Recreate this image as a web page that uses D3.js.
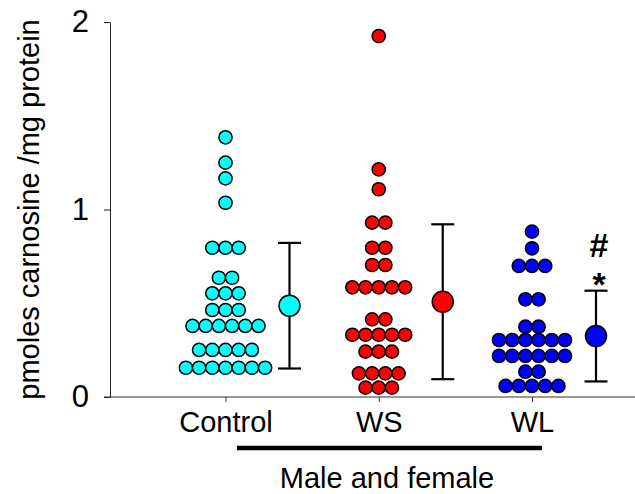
<!DOCTYPE html>
<html>
<head>
<meta charset="utf-8">
<script src="https://cdnjs.cloudflare.com/ajax/libs/d3/7.8.5/d3.min.js"></script>
<style>
  body { margin: 0; background: #fff; }
  text { font-family: "Liberation Sans", Arial, sans-serif; fill: #000; }
</style>
</head>
<body>
<div id="chart"></div>
<script>
// groups shown on the x axis
var categories = ["Control", "WS", "WL"];
var colors = ["#00ffff", "#ff0000", "#0000ff"];

// individual values (pmoles carnosine / mg protein)
var controlValues = [1.385, 1.25, 1.166, 1.036,
    0.796, 0.796, 0.796,
    0.636, 0.636,
    0.553, 0.553, 0.553,
    0.464, 0.464, 0.464,
    0.379, 0.379, 0.379, 0.379, 0.379, 0.379,
    0.251, 0.251, 0.251, 0.251, 0.251,
    0.156, 0.156, 0.156, 0.156, 0.156, 0.156, 0.156];
var wsValues = [1.925, 1.214, 1.108,
    0.93, 0.93,
    0.796, 0.796,
    0.704, 0.704,
    0.585, 0.585, 0.585, 0.585, 0.585,
    0.414, 0.414,
    0.332, 0.332, 0.332, 0.332, 0.332,
    0.242, 0.242, 0.242,
    0.126, 0.126, 0.126, 0.126,
    0.05, 0.05, 0.05];
var wlValues = [0.882, 0.793,
    0.699, 0.699, 0.699,
    0.521, 0.521,
    0.375, 0.375,
    0.304, 0.304, 0.304, 0.304, 0.304, 0.304,
    0.219, 0.219, 0.219, 0.219, 0.219, 0.219,
    0.135, 0.135,
    0.059, 0.059, 0.059, 0.059, 0.059];

// group mean and SD
var means = [0.487, 0.508, 0.325];
var sds = [0.335, 0.413, 0.242];

var yTicks = [0, 1, 2];
var annotations = ["#", "*"];   // shown above WL

var width = 635, height = 494;
var svg = d3.select("#chart").append("svg")
    .attr("width", width)
    .attr("height", height);

var y = d3.scaleLinear().domain([0, 2]).range([397, 22]);
var x = d3.scalePoint().domain(categories).range([225.5, 532]);
var meanOffset = 64;
var r = 6.6;

// y axis
var yAxis = svg.append("g")
    .attr("transform", "translate(110,0)")
    .call(d3.axisLeft(y).tickValues(yTicks).tickFormat(d3.format("d")).tickSize(6).tickSizeOuter(0).tickPadding(15));
yAxis.select(".domain").attr("stroke", "#222");
yAxis.selectAll(".tick line").attr("stroke", "#222");
yAxis.selectAll(".tick text")
    .style("font-size", "31px")
    .attr("font-family", null);

// x axis line, running to the right edge
var xAxis = svg.append("g")
    .attr("transform", "translate(0,397)")
    .call(d3.axisBottom(x).tickSize(5).tickSizeOuter(0).tickPadding(9));
xAxis.select(".domain").attr("d", "M104,0H" + width).attr("stroke", "#333");
xAxis.selectAll(".tick line").attr("stroke", "#333");
xAxis.selectAll(".tick text")
    .style("font-size", "29px")
    .attr("font-family", null);

// y label
svg.append("text")
    .attr("transform", "translate(39," + (y(0) + y(2)) / 2 + ") rotate(-90)")
    .attr("text-anchor", "middle")
    .style("font-size", "29px")
    .text("pmoles carnosine /mg protein");

// dots: identical values form a centred row
var groups = [controlValues, wsValues, wlValues];
groups.forEach(function(vals, gi) {
    var rows = d3.groups(vals, function(d) { return d; });
    var pts = [];
    rows.forEach(function(row) {
        var n = row[1].length;
        row[1].forEach(function(v, k) {
            pts.push({ v: v, dx: (k - (n - 1) / 2) * 2 * r });
        });
    });
    svg.append("g").selectAll("circle")
        .data(pts)
        .join("circle")
        .attr("cx", function(d) { return x(categories[gi]) + d.dx; })
        .attr("cy", function(d) { return y(d.v); })
        .attr("r", r)
        .attr("fill", colors[gi])
        .attr("stroke", "#000")
        .attr("stroke-width", 1.5);
});

// mean +/- SD
categories.forEach(function(c, i) {
    var cx = x(c) + meanOffset;
    var g = svg.append("g").attr("stroke", "#000").attr("stroke-width", 2.2);
    g.append("line")
        .attr("x1", cx).attr("x2", cx)
        .attr("y1", y(means[i] + sds[i])).attr("y2", y(means[i] - sds[i]));
    [means[i] + sds[i], means[i] - sds[i]].forEach(function(v) {
        g.append("line")
            .attr("x1", cx - 11.5).attr("x2", cx + 11.5)
            .attr("y1", y(v)).attr("y2", y(v));
    });
    g.append("circle")
        .attr("cx", cx).attr("cy", y(means[i]))
        .attr("r", 10.5)
        .attr("fill", colors[i])
        .attr("stroke-width", 1.5);
});

// significance marks above WL
var wlx = x("WL") + meanOffset + 3;
var wlTop = y(means[2] + sds[2]);
svg.append("text")
    .attr("x", wlx).attr("y", wlTop - 34)
    .attr("text-anchor", "middle")
    .style("font-size", "34px")
    .style("font-weight", "bold")
    .text(annotations[0]);
svg.append("text")
    .attr("x", wlx).attr("y", wlTop + 5)
    .attr("text-anchor", "middle")
    .style("font-size", "34px")
    .style("font-weight", "bold")
    .text(annotations[1]);

// bracket for the grouped conditions
svg.append("line")
    .attr("x1", 237).attr("x2", 542)
    .attr("y1", 448).attr("y2", 448)
    .attr("stroke", "#000")
    .attr("stroke-width", 4.5);
svg.append("text")
    .attr("x", 387).attr("y", 488)
    .attr("text-anchor", "middle")
    .style("font-size", "29px")
    .text("Male and female");
</script>
</body>
</html>
